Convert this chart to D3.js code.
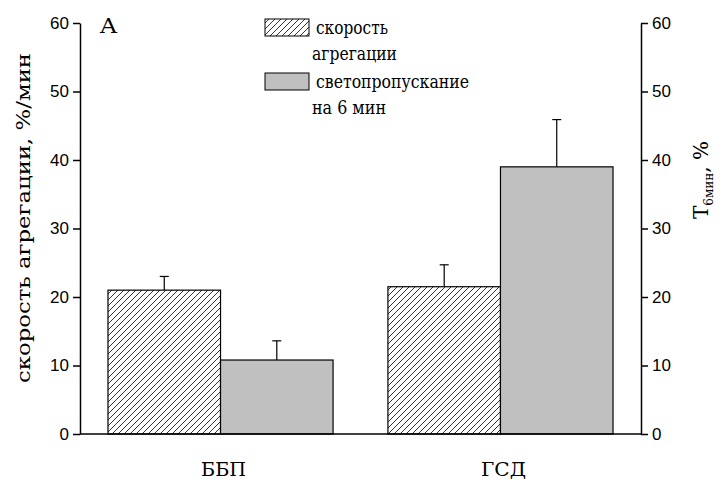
<!DOCTYPE html>
<html>
<head>
<meta charset="utf-8">
<script src="https://cdn.jsdelivr.net/npm/d3@7"></script>
<style>
  body { margin: 0; background: #fff; }
</style>
</head>
<body>
<div id="container"></div>
<script>
// data
const categories = ['ББП', 'ГСД']
const seriesNames = ['скорость агрегации', 'светопропускание на 6 мин']
const rateValues = [21.0, 21.5]      // скорость агрегации, %/мин (left axis)
const rateErrors = [2.0, 3.2]
const transValues = [10.8, 39.0]     // T 6мин, % (right axis)
const transErrors = [2.8, 6.9]
const yTicks = [0, 10, 20, 30, 40, 50, 60]

const width = 723
const height = 479
const padLeft = 80, padRight = 641, padTop = 23, padBottom = 434

const svg = d3.select('#container').append('svg')
    .attr('width', width)
    .attr('height', height)

const defs = svg.append('defs')
const pat = defs.append('pattern')
    .attr('id', 'hatch')
    .attr('patternUnits', 'userSpaceOnUse')
    .attr('width', 6)
    .attr('height', 6)
pat.append('rect').attr('width', 6).attr('height', 6).attr('fill', '#fff')
pat.append('path')
    .attr('d', 'M-1,1 l2,-2 M0,6 l6,-6 M5,7 l2,-2')
    .attr('stroke', '#000')
    .attr('stroke-width', 0.8)

const xScale = d3.scaleBand()
    .domain(categories)
    .range([padLeft, padRight])
    .paddingInner(0.196)
    .paddingOuter(0.1)

const xInner = d3.scaleBand()
    .domain([0, 1])
    .range([0, xScale.bandwidth()])

const yLeft = d3.scaleLinear().domain([0, 60]).range([padBottom, padTop])
const yRight = d3.scaleLinear().domain([0, 60]).range([padBottom, padTop])

const rows = categories.map((c, i) => [
    {cat: c, s: 0, v: rateValues[i], e: rateErrors[i], y: yLeft},
    {cat: c, s: 1, v: transValues[i], e: transErrors[i], y: yRight}
]).flat()

// error bars
const eb = svg.append('g').attr('stroke', '#000').attr('stroke-width', 1.2)
rows.forEach(d => {
    const cx = xScale(d.cat) + xInner(d.s) + xInner.bandwidth() / 2
    eb.append('line')
        .attr('x1', cx).attr('x2', cx)
        .attr('y1', d.y(d.v)).attr('y2', d.y(d.v + d.e))
    eb.append('line')
        .attr('x1', cx - 4.5).attr('x2', cx + 4.5)
        .attr('y1', d.y(d.v + d.e)).attr('y2', d.y(d.v + d.e))
})

svg.selectAll('rect.bar')
    .data(rows)
    .enter()
    .append('rect')
    .attr('class', 'bar')
    .attr('x', d => xScale(d.cat) + xInner(d.s))
    .attr('y', d => d.y(d.v))
    .attr('width', xInner.bandwidth())
    .attr('height', d => padBottom - d.y(d.v))
    .attr('fill', d => d.s === 0 ? 'url(#hatch)' : '#c0c0c0')
    .attr('stroke', '#000')
    .attr('stroke-width', 1.2)

// axes
function styleAxis(g) {
    g.attr('font-family', 'Arial, "Liberation Sans", sans-serif').attr('font-size', 17)
    g.selectAll('.domain, .tick line').attr('stroke', '#000').attr('stroke-width', 1.5)
    g.selectAll('.tick text').attr('fill', '#000')
}

svg.append('g')
    .attr('transform', `translate(${padLeft},0)`)
    .call(d3.axisLeft(yLeft).tickValues(yTicks).tickSize(7).tickPadding(4).tickSizeOuter(0))
    .call(styleAxis)

svg.append('g')
    .attr('transform', `translate(${padRight},0)`)
    .call(d3.axisRight(yRight).tickValues(yTicks).tickSize(7).tickPadding(4).tickSizeOuter(0))
    .call(styleAxis)

svg.append('line')
    .attr('x1', padLeft).attr('x2', padRight)
    .attr('y1', padBottom).attr('y2', padBottom)
    .attr('stroke', '#000').attr('stroke-width', 1.5)

const serif = '"DejaVu Serif", "Liberation Serif", serif'

svg.selectAll('text.cat')
    .data(categories)
    .enter()
    .append('text')
    .attr('class', 'cat')
    .attr('x', d => xScale(d) + xScale.bandwidth() / 2 + 3)
    .attr('y', 476)
    .attr('text-anchor', 'middle')
    .attr('font-family', serif)
    .attr('font-size', 18)
    .attr('textLength', 45)
    .attr('lengthAdjust', 'spacingAndGlyphs')
    .text(d => d)

svg.append('text')
    .attr('transform', 'translate(30,218) rotate(-90)')
    .attr('text-anchor', 'middle')
    .attr('font-family', serif)
    .attr('font-size', 19)
    .attr('textLength', 330)
    .attr('lengthAdjust', 'spacingAndGlyphs')
    .text('скорость агрегации, %/мин')

const rl = svg.append('text')
    .attr('transform', 'translate(708,180) rotate(-90)')
    .attr('text-anchor', 'middle')
    .attr('font-family', serif)
    .attr('font-size', 20)
rl.append('tspan').text('T')
rl.append('tspan').attr('font-size', 12).attr('dy', 5).text('6мин')
rl.append('tspan').attr('dy', -5).text(', %')

svg.append('text')
    .attr('x', 100).attr('y', 33)
    .attr('font-family', serif)
    .attr('font-size', 20)
    .attr('textLength', 17)
    .attr('lengthAdjust', 'spacingAndGlyphs')
    .text('A')

// legend
const legend = svg.append('g').attr('font-family', serif).attr('font-size', 18)
const legendLines = [['скорость', 'агрегации'], ['светопропускание', 'на 6 мин']]
const legendLens = [[72, 85], [153, 74]]
seriesNames.forEach((name, i) => {
    const y0 = 19 + i * 54
    legend.append('rect')
        .attr('x', 265).attr('y', y0)
        .attr('width', 44).attr('height', 17)
        .attr('fill', i === 0 ? 'url(#hatch)' : '#c0c0c0')
        .attr('stroke', '#000').attr('stroke-width', 1)
    legend.append('text').attr('x', 316).attr('y', y0 + 15)
        .attr('textLength', legendLens[i][0]).attr('lengthAdjust', 'spacingAndGlyphs')
        .text(legendLines[i][0])
    legend.append('text').attr('x', 312).attr('y', y0 + 41)
        .attr('textLength', legendLens[i][1]).attr('lengthAdjust', 'spacingAndGlyphs')
        .text(legendLines[i][1])
})
</script>
</body>
</html>
